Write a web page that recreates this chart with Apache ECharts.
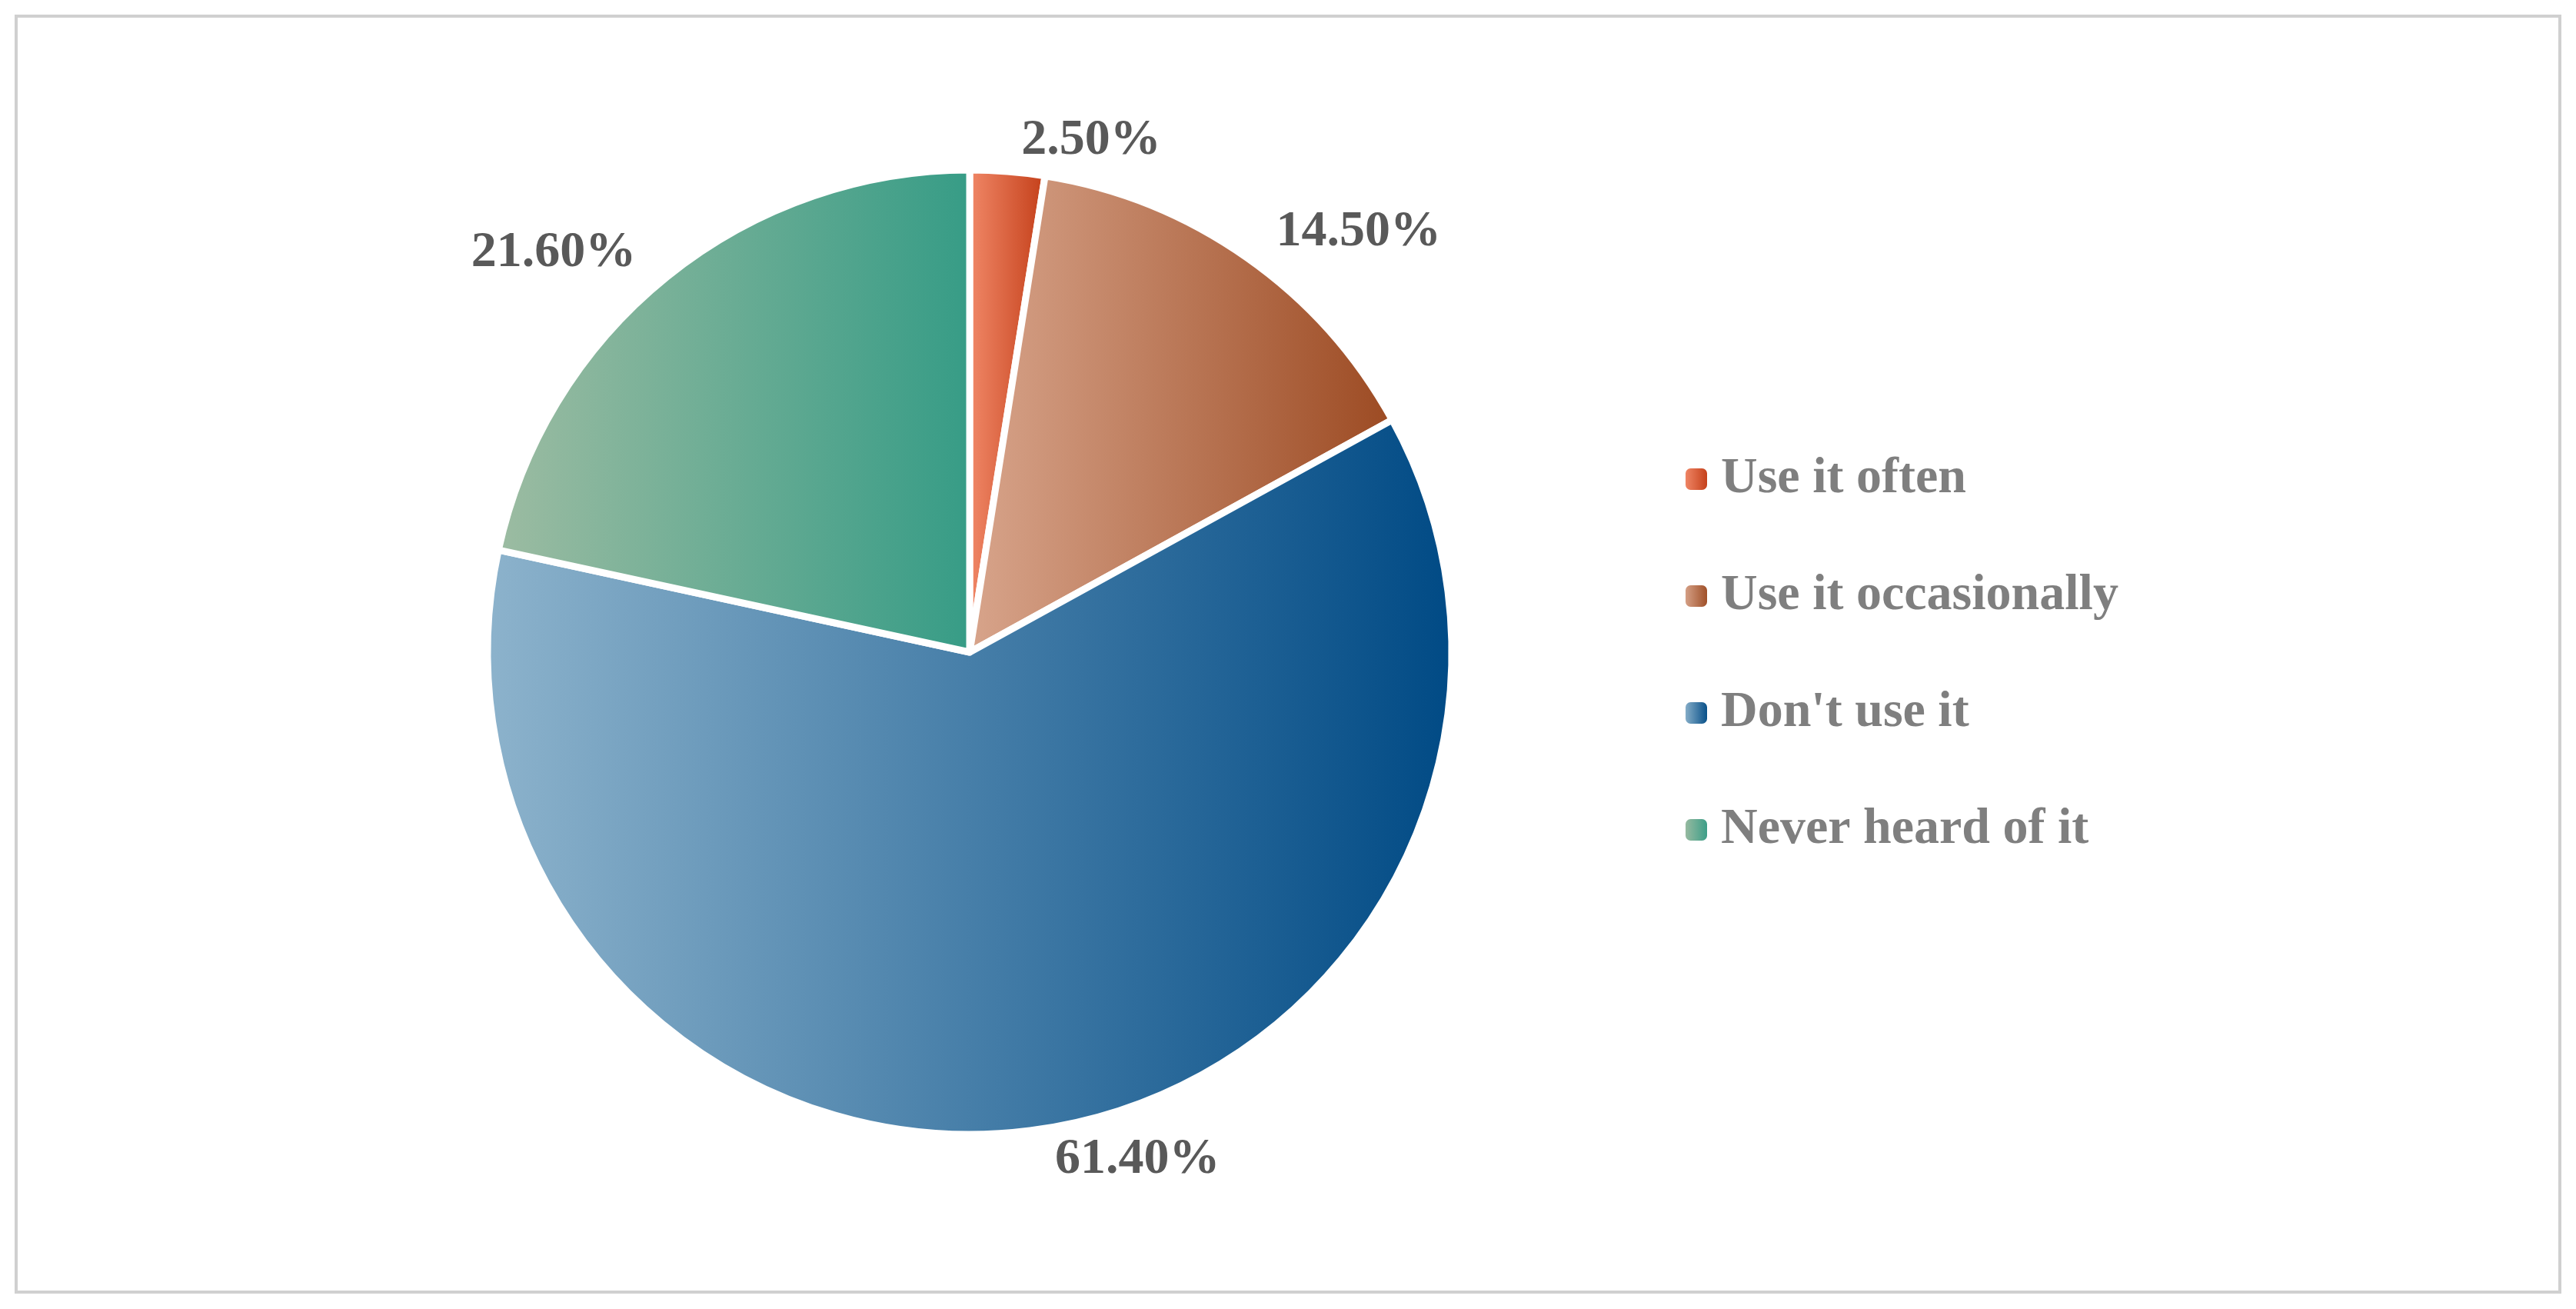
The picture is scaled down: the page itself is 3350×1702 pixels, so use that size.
<!DOCTYPE html>
<html><head><meta charset="utf-8">
<script src="https://cdn.jsdelivr.net/npm/echarts@6/dist/echarts.min.js"></script>
<style>html,body{margin:0;padding:0;background:#fff}#c{width:3350px;height:1702px}</style>
</head><body><div id="c"></div>
<script>
const categories = ['Use it often','Use it occasionally',"Don't use it",'Never heard of it'];
const values = [2.5, 14.5, 61.4, 21.6];
const gradStops = [['#f28a6a','#c23c16'],['#d8a58c','#9c4a22'],['#8db3cc','#004a85'],['#9dbca2','#369c86']];
function grad(i){return new echarts.graphic.LinearGradient(0,0,1,0,[{offset:0,color:gradStops[i][0]},{offset:1,color:gradStops[i][1]}]);}
const chart = echarts.init(document.getElementById('c'));
chart.setOption({
  backgroundColor:'#fff',
  animation:false,
  graphic:[{type:'rect',shape:{x:21,y:21,width:3308,height:1659},style:{fill:'none',stroke:'#d0d0d0',lineWidth:4}}],
  legend:{
    orient:'vertical', left:2185, top:'middle', itemWidth:30, itemHeight:30, itemGap:86,
    textStyle:{fontFamily:'Liberation Serif',fontWeight:'bold',fontSize:66,color:'#7f7f7f',padding:[0,0,0,12]},
    data:categories.map((c,i)=>({name:c,itemStyle:{color:grad(i)}}))
  },
  series:[{
    type:'pie', center:[1261,848], radius:627, startAngle:90, clockwise:true,
    itemStyle:{borderColor:'#fff',borderWidth:9},
    label:{show:true,position:'outside',formatter:p=>p.value.toFixed(2)+'%',
      fontFamily:'Liberation Serif',fontWeight:'bold',fontSize:66,color:'#595959'},
    labelLine:{show:false,length:40,length2:10},
    data:categories.map((c,i)=>({name:c,value:values[i],itemStyle:{color:grad(i)}}))
  }]
});
</script></body></html>
